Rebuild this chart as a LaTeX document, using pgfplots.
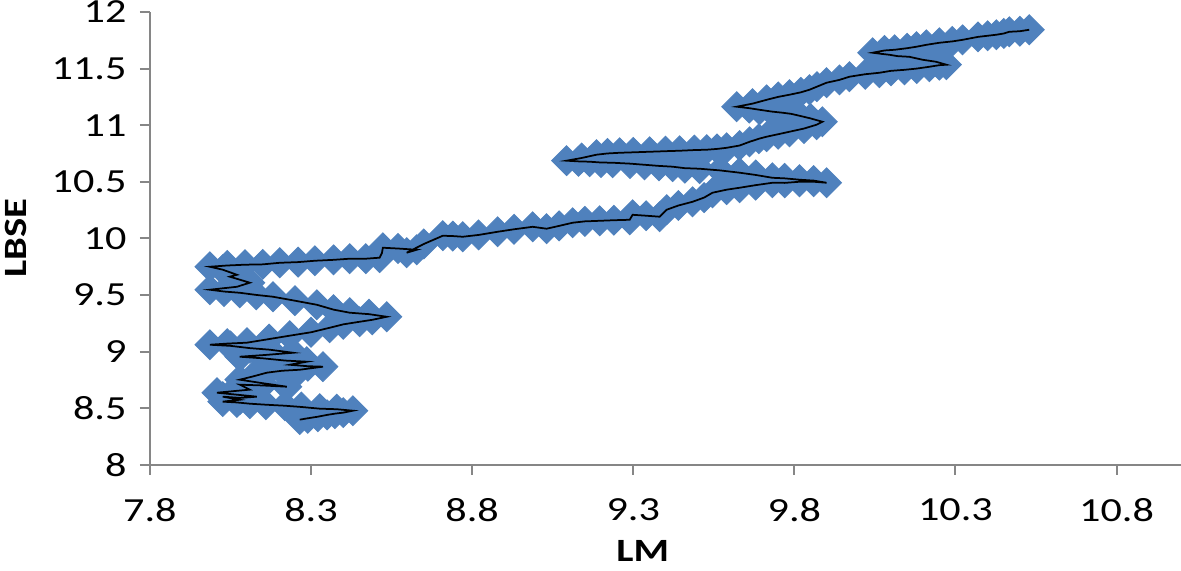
\documentclass[border=0pt]{standalone}
\usepackage{fontspec}
\setmainfont{Carlito}[FakeStretch=1.25]
\usepackage{pgfplots}
\usepackage{pgfplotstable}
\pgfplotsset{compat=1.18}
\definecolor{excelblue}{HTML}{4F81BD}
\definecolor{axgray}{HTML}{868686}
\pgfplotstableread{
x y
8.265 8.398
8.29 8.41
8.321 8.424
8.35 8.44
8.374 8.451
8.40 8.46
8.430 8.477
8.38 8.49
8.327 8.495
8.27 8.51
8.219 8.521
8.16 8.53
8.110 8.539
8.07 8.55
8.026 8.557
8.079 8.574
8.026 8.601
8.08 8.59
8.132 8.601
8.008 8.636
8.06 8.65
8.110 8.663
8.079 8.707
8.15 8.70
8.225 8.689
8.15 8.72
8.079 8.751
8.12 8.78
8.163 8.813
8.21 8.83
8.265 8.839
8.337 8.866
8.29 8.87
8.234 8.883
8.287 8.910
8.22 8.92
8.15 8.94
8.079 8.954
8.16 8.97
8.244 8.989
8.172 9.016
8.11 9.03
8.05 9.05
7.986 9.060
8.04 9.07
8.101 9.078
8.17 9.11
8.234 9.140
8.30 9.17
8.358 9.210
8.40 9.24
8.451 9.263
8.49 9.28
8.535 9.307
8.48 9.33
8.420 9.343
8.37 9.37
8.318 9.413
8.250 9.449
8.182 9.484
8.13 9.50
8.079 9.519
8.03 9.53
7.986 9.546
8.070 9.572
8.110 9.608
8.048 9.661
8.070 9.678
8.026 9.723
7.986 9.749
8.04 9.76
8.095 9.767
8.15 9.77
8.203 9.784
8.26 9.79
8.312 9.802
8.37 9.81
8.420 9.820
8.47 9.82
8.513 9.829
8.52 9.87
8.523 9.917
8.57 9.91
8.628 9.899
8.597 9.873
8.65 9.95
8.709 10.023
8.74 10.02
8.771 10.014
8.82 10.03
8.879 10.058
8.93 10.08
8.988 10.102
9.031 10.085
9.07 10.11
9.112 10.138
9.15 10.15
9.196 10.155
9.24 10.16
9.289 10.164
9.298 10.208
9.34 10.20
9.382 10.191
9.404 10.253
9.44 10.29
9.484 10.323
9.52 10.36
9.546 10.403
9.59 10.43
9.630 10.447
9.68 10.47
9.732 10.491
9.77 10.49
9.816 10.500
9.86 10.50
9.900 10.491
9.86 10.51
9.816 10.518
9.77 10.53
9.732 10.535
9.68 10.56
9.630 10.580
9.57 10.60
9.506 10.615
9.46 10.62
9.422 10.633
9.38 10.64
9.335 10.650
9.29 10.66
9.236 10.668
9.20 10.67
9.165 10.677
9.13 10.68
9.093 10.686
9.14 10.71
9.186 10.739
9.22 10.75
9.258 10.756
9.30 10.76
9.351 10.765
9.40 10.77
9.444 10.774
9.49 10.78
9.528 10.783
9.56 10.79
9.590 10.800
9.63 10.82
9.661 10.853
9.69 10.88
9.714 10.898
9.75 10.92
9.785 10.942
9.83 10.97
9.869 11.004
9.887 11.030
9.85 11.06
9.816 11.083
9.79 11.10
9.763 11.110
9.73 11.12
9.692 11.136
9.66 11.15
9.621 11.163
9.67 11.19
9.714 11.224
9.75 11.25
9.785 11.269
9.82 11.29
9.847 11.313
9.87 11.34
9.900 11.375
9.94 11.40
9.971 11.428
10.02 11.45
10.064 11.463
10.10 11.48
10.142 11.489
10.18 11.50
10.219 11.516
10.25 11.53
10.272 11.534
10.24 11.56
10.198 11.578
10.157 11.604
10.12 11.61
10.095 11.622
10.07 11.63
10.043 11.640
10.08 11.66
10.111 11.666
10.15 11.68
10.179 11.693
10.21 11.71
10.250 11.728
10.29 11.74
10.322 11.754
10.37 11.78
10.40 11.79
10.427 11.799
10.45 11.81
10.467 11.825
10.50 11.83
10.529 11.843
}\data
\begin{document}
\begin{tikzpicture}
\begin{axis}[
  set layers,
  scale only axis, width=412.7pt, height=181.2pt,
  xmin=7.8, xmax=11.0, ymin=8, ymax=12,
  axis lines=left, axis line style={-, axgray, line width=0.8pt},
  xtick={7.8,8.3,8.8,9.3,9.8,10.3,10.8},
  xticklabels={7.8,8.3,8.8,9.3,9.8,10.3,10.8},
  ytick={8,8.5,9,9.5,10,10.5,11,11.5,12},
  yticklabels={8,8.5,9,9.5,10,10.5,11,11.5,12},
  tick align=outside, major tick length=4pt,
  tick style={axgray, line width=0.8pt},
  ticklabel style={font=\fontsize{13.5}{15}\selectfont, text=black},
  xticklabel style={anchor=center, yshift=-14pt},
  yticklabel style={anchor=east, inner sep=0pt, xshift=-5.2pt},
  xlabel={LM}, ylabel={LBSE},
  label style={font=\bfseries\fontsize{13}{15}\selectfont},
  xlabel style={at={(axis description cs:0.478,-0.19)}, anchor=center},
  ylabel style={at={(axis description cs:-0.130,0.5)}, anchor=center},
  clip=false,
]
\addplot[only marks, mark=square*, mark size=4.2pt,
  mark options={rotate=45, fill=excelblue, draw=excelblue}] table {\data};
\addplot[black, line width=0.7pt, no marks, on layer=axis foreground] table {\data};
\end{axis}
\pgfresetboundingbox
\path[use as bounding box] ([xshift=-60pt,yshift=-42.4pt]current axis.south west) rectangle ([yshift=4.8pt]current axis.north east);
\end{tikzpicture}
\end{document}
